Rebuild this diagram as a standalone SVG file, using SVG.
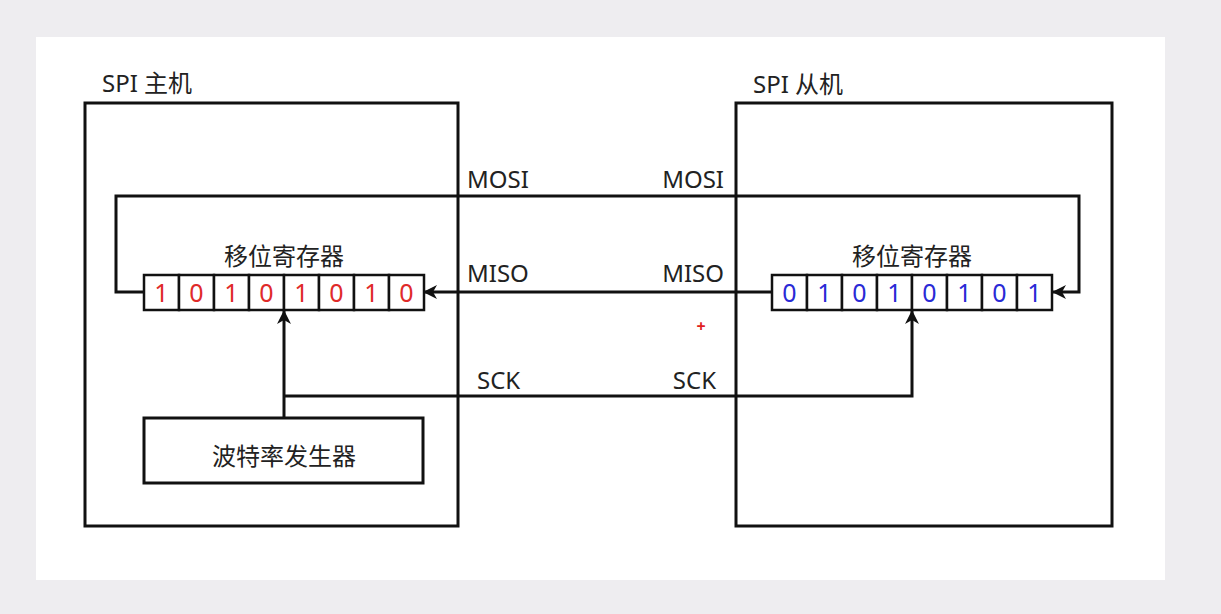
<svg xmlns="http://www.w3.org/2000/svg" width="1221" height="614" viewBox="0 0 1221 614">
<style>
.box{fill:none;stroke:#111;stroke-width:3}
.cell{fill:#fff;stroke:#111;stroke-width:2.5}
.ln{fill:none;stroke:#111;stroke-width:3}
.t{font-family:"Noto Sans","Noto Sans CJK SC",sans-serif;fill:#222;font-size:24px}
.r{font-family:"Noto Sans",sans-serif;font-size:25px;fill:#e02a2a;text-anchor:middle}
.b{font-family:"Noto Sans",sans-serif;font-size:25px;fill:#2a2ad6;text-anchor:middle}
.c{text-anchor:middle}
</style>
<defs>
<marker id="ar" viewBox="0 0 14 14" refX="13" refY="7" markerWidth="14" markerHeight="14" markerUnits="userSpaceOnUse" orient="auto">
<path d="M0,0 L14,7 L0,14 L4,7 Z" fill="#111"/>
</marker>
</defs>
<rect width="1221" height="614" fill="#eeedf0"/>
<rect x="36" y="37" width="1129" height="543" fill="#fff"/>

<g id="master">
<rect class="box" x="85" y="103" width="373" height="423"/>
<text class="t" x="102" y="92">SPI 主机</text>
</g>
<g id="slave">
<rect class="box" x="736" y="103" width="376" height="423"/>
<text class="t" x="753" y="93">SPI 从机</text>
</g>

<g id="connectors">
<path class="ln" d="M144,292 H116 V196 H1079 V292 H1053" marker-end="url(#ar)"/>
<path class="ln" d="M772,292 H424" marker-end="url(#ar)"/>
<path class="ln" d="M284,417 V311" marker-end="url(#ar)"/>
<path class="ln" d="M284,396 H912 V311" marker-end="url(#ar)"/>
<text class="t" x="467" y="188">MOSI</text>
<text class="t" x="724" y="188" text-anchor="end">MOSI</text>
<text class="t" x="467" y="282">MISO</text>
<text class="t" x="724" y="282" text-anchor="end">MISO</text>
<text class="t" x="477" y="389">SCK</text>
<text class="t" x="716" y="389" text-anchor="end">SCK</text>
</g>

<g id="master-register">
<text class="t c" x="284" y="265">移位寄存器</text>
<rect class="cell" x="144" y="275" width="35" height="35"/>
<rect class="cell" x="179" y="275" width="35" height="35"/>
<rect class="cell" x="214" y="275" width="35" height="35"/>
<rect class="cell" x="249" y="275" width="35" height="35"/>
<rect class="cell" x="284" y="275" width="35" height="35"/>
<rect class="cell" x="319" y="275" width="35" height="35"/>
<rect class="cell" x="354" y="275" width="35" height="35"/>
<rect class="cell" x="389" y="275" width="35" height="35"/>
<text class="r" x="161.5" y="302">1</text>
<text class="r" x="196.5" y="302">0</text>
<text class="r" x="231.5" y="302">1</text>
<text class="r" x="266.5" y="302">0</text>
<text class="r" x="301.5" y="302">1</text>
<text class="r" x="336.5" y="302">0</text>
<text class="r" x="371.5" y="302">1</text>
<text class="r" x="406.5" y="302">0</text>
</g>

<g id="slave-register">
<text class="t c" x="912" y="265">移位寄存器</text>
<rect class="cell" x="772" y="275" width="35" height="35"/>
<rect class="cell" x="807" y="275" width="35" height="35"/>
<rect class="cell" x="842" y="275" width="35" height="35"/>
<rect class="cell" x="877" y="275" width="35" height="35"/>
<rect class="cell" x="912" y="275" width="35" height="35"/>
<rect class="cell" x="947" y="275" width="35" height="35"/>
<rect class="cell" x="982" y="275" width="35" height="35"/>
<rect class="cell" x="1017" y="275" width="35" height="35"/>
<text class="b" x="789.5" y="302">0</text>
<text class="b" x="824.5" y="302">1</text>
<text class="b" x="859.5" y="302">0</text>
<text class="b" x="894.5" y="302">1</text>
<text class="b" x="929.5" y="302">0</text>
<text class="b" x="964.5" y="302">1</text>
<text class="b" x="999.5" y="302">0</text>
<text class="b" x="1034.5" y="302">1</text>
</g>

<g id="baud-generator">
<rect class="box" x="144" y="418" width="279" height="65"/>
<text class="t c" x="284" y="465">波特率发生器</text>
</g>

<text x="701" y="332" font-family="Noto Sans,sans-serif" font-size="16" font-weight="bold" fill="#e02020" text-anchor="middle">+</text>
</svg>
